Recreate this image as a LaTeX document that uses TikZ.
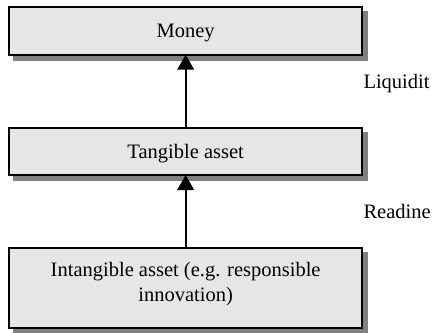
\documentclass[tikz,border=0pt]{standalone}
\usepackage{fontspec}
\setmainfont{Liberation Serif}
\newfontfamily\tnr{Liberation Serif}
\usetikzlibrary{arrows.meta,shadows}
\definecolor{boxfill}{RGB}{230,230,230}
\definecolor{shadowgray}{RGB}{128,128,128}
\begin{document}
\begin{tikzpicture}[x=1pt,y=1pt,
  every node/.style={font=\tnr\fontsize{20.5pt}{24.3pt}\selectfont},
  box/.style={draw=black, line width=2.2pt, fill=boxfill, minimum width=352.7pt,
    inner sep=0pt, outer sep=0pt,
    drop shadow={shadow xshift=5pt, shadow yshift=-5pt, fill=shadowgray, draw=shadowgray, line width=2.2pt, opacity=1}},
  onebox/.style={box, text height=16pt, text depth=2.4pt},
  link/.style={line width=2.3pt, -{Triangle[length=15pt,width=16.5pt]}},
  side/.style={anchor=base west, inner sep=0pt}]
\useasboundingbox (0,0) rectangle (433,-332);
\node[onebox, minimum height=47.7pt] (money) at (185.65,-30.85) {Money};
\node[onebox, minimum height=46.7pt] (tang) at (185.65,-151.65) {Tangible asset};
\node[box, minimum height=80pt] (intang) at (185.65,-288.3) {};
\node[align=center, inner sep=0pt] (intangtext) at (185.65,-284.2) {Intangible asset (e.g. responsible\\innovation)};
\draw[link] (tang.north) -- (money.south);
\draw[link] (intang.north) -- (tang.south);
\node[side] (liq) at (363.3,-88.3) {Liquidit};
\node[side] (read) at (363.3,-218.3) {Readine};
\end{tikzpicture}
\end{document}
